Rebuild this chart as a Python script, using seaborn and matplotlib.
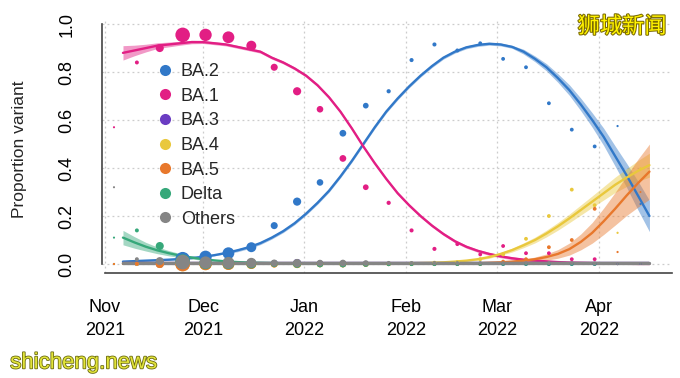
import pandas as pd
import numpy as np
import matplotlib.pyplot as plt
import matplotlib.dates as mdates
import matplotlib.patheffects as pe
from matplotlib.lines import Line2D
import seaborn as sns

# %% data
variants = ['BA.2', 'BA.1', 'BA.3', 'BA.4', 'BA.5', 'Delta', 'Others']
palette = {'BA.2': '#3178C8', 'BA.1': '#E21E84', 'BA.3': '#6A3CC2',
           'BA.4': '#E9C83C', 'BA.5': '#E8782C', 'Delta': '#36A87A',
           'Others': '#858585'}

# weekly observed proportions (24 weeks) and number of sequences per week
week_dates = pd.date_range('2021-11-03 18:00', periods=24, freq='7D')
n_seq = [8, 60, 290, 980, 700, 640, 450, 220, 300, 190, 200, 140,
         70, 65, 65, 60, 55, 55, 55, 55, 55, 55, 10, 5]
obs_ba2 = [0.0, 0.0, 0.005, 0.02, 0.03, 0.045, 0.07, 0.16, 0.26, 0.34, 0.545, 0.66,
           0.72, 0.85, 0.915, 0.89, 0.92, 0.855, 0.82, 0.67, 0.56, 0.49, 0.575, 0.25]
obs_ba1 = [0.57, 0.84, 0.90, 0.955, 0.955, 0.945, 0.91, 0.82, 0.72, 0.645, 0.44, 0.32,
           0.255, 0.14, 0.063, 0.083, 0.04, 0.075, 0.045, 0.045, 0.02, 0.02, 0.0, 0.0]
obs_ba3 = [0.0, 0.0, 0.0, 0.001, 0.001, 0.001, 0.002, 0.002, 0.004, 0.002, 0.001, 0.001,
           0.0, 0.0, 0.0, 0.0, 0.0, 0.0, 0.0, 0.0, 0.0, 0.0, 0.0, 0.0]
obs_ba4 = [0.0, 0.0, 0.0, 0.0, 0.0, 0.0, 0.0, 0.0, 0.0, 0.0, 0.0, 0.0,
           0.0, 0.002, 0.005, 0.008, 0.02, 0.04, 0.105, 0.2, 0.31, 0.245, 0.13, 0.4]
obs_ba5 = [0.0, 0.001, 0.0, 0.0, 0.0, 0.0, 0.0, 0.0, 0.0, 0.0, 0.0, 0.0,
           0.0, 0.0, 0.0, 0.0, 0.0, 0.01, 0.02, 0.07, 0.1, 0.23, 0.05, 0.3]
obs_delta = [0.11, 0.14, 0.075, 0.01, 0.004, 0.003, 0.002, 0.002, 0.001, 0.0, 0.0, 0.0,
             0.0, 0.0, 0.0, 0.0, 0.0, 0.0, 0.0, 0.0, 0.0, 0.0, 0.0, 0.0]
obs_others = [0.32, 0.02, 0.012, 0.008, 0.006, 0.005, 0.005, 0.004, 0.004, 0.004, 0.004, 0.004,
              0.004, 0.004, 0.004, 0.004, 0.004, 0.004, 0.004, 0.004, 0.004, 0.003, 0.0, 0.0]

# fitted curves (every 3.5 days) and half widths of their confidence bands
fit_dates = pd.date_range('2021-11-06 12:00', periods=47, freq='84h')
fit_ba2 = [0.01, 0.012, 0.014, 0.016, 0.018, 0.021, 0.025, 0.03, 0.037, 0.046, 0.057, 0.07,
           0.087, 0.11, 0.137, 0.17, 0.21, 0.255, 0.305, 0.365, 0.43, 0.5, 0.57, 0.635,
           0.69, 0.74, 0.785, 0.825, 0.86, 0.885, 0.903, 0.913, 0.918, 0.915, 0.905, 0.885,
           0.855, 0.82, 0.775, 0.725, 0.665, 0.6, 0.53, 0.45, 0.37, 0.285, 0.2]
fit_ba1 = [0.88, 0.89, 0.90, 0.91, 0.915, 0.92, 0.925, 0.925, 0.92, 0.915, 0.905, 0.895,
           0.885, 0.86, 0.84, 0.815, 0.785, 0.745, 0.695, 0.635, 0.565, 0.49, 0.42, 0.355,
           0.295, 0.245, 0.2, 0.16, 0.125, 0.095, 0.072, 0.055, 0.042, 0.032, 0.024, 0.018,
           0.014, 0.011, 0.008, 0.006, 0.005, 0.004, 0.003, 0.002, 0.002, 0.001, 0.001]
fit_ba3 = [0.006] * 47
fit_ba4 = [0.001] * 25 + [0.003, 0.004, 0.005, 0.007, 0.01, 0.014, 0.02, 0.029, 0.042, 0.058,
                          0.078, 0.1, 0.127, 0.157, 0.19, 0.225, 0.26, 0.295, 0.33, 0.36,
                          0.388, 0.412]
fit_ba5 = [0.001] * 30 + [0.002, 0.003, 0.005, 0.007, 0.01, 0.014, 0.02, 0.029, 0.042, 0.062,
                          0.092, 0.13, 0.178, 0.23, 0.285, 0.337, 0.385]
fit_delta = [0.11, 0.09, 0.072, 0.057, 0.045, 0.035, 0.027, 0.02, 0.015, 0.011, 0.008,
             0.006, 0.005, 0.004, 0.003] + [0.002] * 32
fit_others = [0.004] * 47

ci_ba2 = [0.003] * 10 + [0.006] * 25 + [0.01, 0.012, 0.015, 0.018, 0.022, 0.026, 0.03,
                                        0.036, 0.042, 0.05, 0.06, 0.065]
ci_ba1 = [0.03, 0.022, 0.016, 0.012, 0.01, 0.008, 0.007] + [0.006] * 30 + [0.004] * 10
ci_ba3 = [0.001] * 47
ci_ba4 = [0.001] * 30 + [0.003, 0.004, 0.005, 0.006, 0.008, 0.01, 0.012, 0.014, 0.016,
                         0.018, 0.021, 0.024, 0.028, 0.032, 0.037, 0.043, 0.05]
ci_ba5 = [0.001] * 32 + [0.002, 0.003, 0.004, 0.006, 0.009, 0.013, 0.018, 0.025, 0.033,
                         0.043, 0.055, 0.068, 0.083, 0.1, 0.115]
ci_delta = [0.03, 0.024, 0.018, 0.014, 0.011, 0.008, 0.006, 0.005] + [0.002] * 39
ci_others = [0.002] * 47

month_ticks = ['2021-11-01', '2021-12-01', '2022-01-01', '2022-02-01', '2022-03-01', '2022-04-01']
month_labels = ['Nov\n2021', 'Dec\n2021', 'Jan\n2022', 'Feb\n2022', 'Mar\n2022', 'Apr\n2022']

# %%
obs = {'BA.2': obs_ba2, 'BA.1': obs_ba1, 'BA.3': obs_ba3, 'BA.4': obs_ba4,
       'BA.5': obs_ba5, 'Delta': obs_delta, 'Others': obs_others}
fit = {'BA.2': fit_ba2, 'BA.1': fit_ba1, 'BA.3': fit_ba3, 'BA.4': fit_ba4,
       'BA.5': fit_ba5, 'Delta': fit_delta, 'Others': fit_others}
ci = {'BA.2': ci_ba2, 'BA.1': ci_ba1, 'BA.3': ci_ba3, 'BA.4': ci_ba4,
      'BA.5': ci_ba5, 'Delta': ci_delta, 'Others': ci_others}

points = pd.concat([pd.DataFrame({'date': week_dates, 'prop': obs[v], 'n': n_seq, 'variant': v})
                    for v in variants], ignore_index=True)
curves = pd.concat([pd.DataFrame({'date': fit_dates, 'p': fit[v], 'ci': ci[v], 'variant': v})
                    for v in variants], ignore_index=True)

sns.set_style('white')
plt.rcParams['font.family'] = ['Liberation Sans', 'DejaVu Sans']

fig = plt.figure(figsize=(6.8, 3.78), dpi=100)
ax = fig.add_axes([102 / 680, 1 - 273 / 378, 570 / 680, 253 / 378])

for v in variants:
    d = curves[curves['variant'] == v]
    ax.fill_between(d['date'], d['p'] - d['ci'], d['p'] + d['ci'],
                    color=palette[v], alpha=0.45, lw=0, zorder=2)

sns.lineplot(data=curves, x='date', y='p', hue='variant', hue_order=variants,
             palette=palette, lw=1.7, legend=False, ax=ax, zorder=3)
# the baseline "Others" fit sits on top, a bit heavier
sns.lineplot(data=curves[curves['variant'] == 'Others'], x='date', y='p',
             color=palette['Others'], lw=2.4, ax=ax, zorder=3.5)

sns.scatterplot(data=points, x='date', y='prop', hue='variant', palette=palette,
                size='n', sizes=(2, 110), linewidth=0, legend=False, ax=ax, zorder=4)

# axes in base-R look
x0 = pd.Timestamp('2021-11-01')
ax.set_xlim(x0 - pd.Timedelta(hours=22), x0 + pd.Timedelta(days=173.4))
ax.set_ylim(-0.0375, 1.017)
ax.set_yticks([0, 0.2, 0.4, 0.6, 0.8, 1.0])
ax.set_yticklabels(['0.0', '0.2', '0.4', '0.6', '0.8', '1.0'], rotation=90, va='center')
ax.set_xticks(pd.to_datetime(month_ticks))
ax.set_xticklabels(month_labels)
for lab in ax.get_xticklabels():
    lab.set_linespacing(1.45)
ax.tick_params(axis='both', labelsize=13, length=8, width=1.2, color='#444444',
               labelcolor='black', direction='out')
ax.tick_params(axis='y', pad=11)
ax.tick_params(axis='x', pad=11)
ax.grid(True, ls=(0, (1.5, 2.5)), color='#cccccc', lw=0.9)
ax.set_axisbelow(True)
sns.despine(ax=ax)
ax.spines['left'].set_bounds(0, 1)
ax.spines['bottom'].set_bounds(mdates.date2num(x0), ax.get_xlim()[1])
for s in ['left', 'bottom']:
    ax.spines[s].set_color('#444444')
    ax.spines[s].set_linewidth(1.2)
ax.set_xlabel('')
ax.set_ylabel('Proportion variant', fontsize=12.5)
ax.yaxis.set_label_coords(-0.132, 0.49)

handles = [Line2D([], [], ls='', marker='o', markersize=8, color=palette[v],
                  markeredgewidth=0) for v in variants]
ax.legend(handles, variants, loc='upper left', bbox_to_anchor=(0.075, 0.865),
          frameon=False, fontsize=13, handletextpad=0.3, labelspacing=0.42,
          handlelength=1.2, borderpad=0)

# watermarks
fig.text(0.915, 0.93, '狮城新闻', family=['Noto Sans CJK SC', 'DejaVu Sans'], fontsize=16,
         color='#FFF200', ha='center', va='center',
         path_effects=[pe.withStroke(linewidth=1.5, foreground='#7a6a00')])
fig.text(0.015, 0.04, 'shicheng.news', fontsize=16, color='#E2E43A', ha='left', va='center',
         path_effects=[pe.withStroke(linewidth=1.2, foreground='#6b6b10')])

fig.savefig('out.png', dpi=100)
